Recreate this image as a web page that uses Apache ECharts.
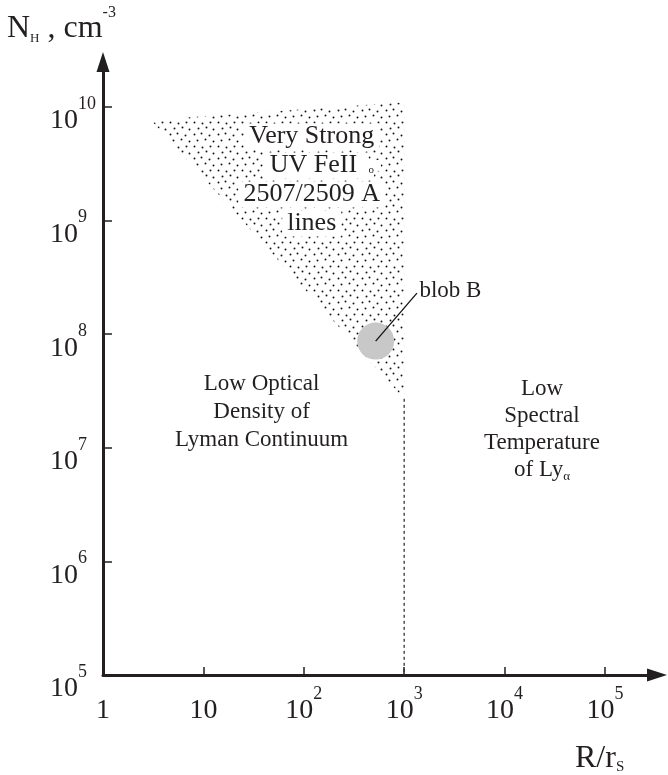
<!DOCTYPE html>
<html>
<head>
<meta charset="utf-8">
<script src="https://cdn.jsdelivr.net/npm/echarts@6/dist/echarts.min.js"></script>
<style>
html,body{margin:0;padding:0;background:#fff;}
#chart{width:668px;height:775px;}
</style>
</head>
<body>
<div id="chart"></div>
<script>
// ---- data (physical units) ----
const xTickValues = [1, 10, 100, 1000, 10000, 100000];        // R / r_s
const yTickValues = [1e5, 1e6, 1e7, 1e8, 1e9, 1e10];          // N_H, cm^-3
const xRange = [1, 3.3e5];
const yRange = [1e5, 2.49e10];
const feRegion = [[3, 7.7e9], [1000, 1.1e10], [1000, 2.7e7]]; // dotted triangle
const boundaryLine = [[1000, 2.7e7], [1000, 1e5]];           // dashed boundary
const blobB = [[520, 8.7e7]];
const blobLeader = [[520, 8.7e7], [1340, 2.3e8]];
const feTextAt = [120, 2.28e9];
const blobTextAt = [1420, 2.4e8];
const lowOpticalAt = [38, 2.07e7];
const lowSpectralAt = [23600, 1.45e7];

const lg = Math.log10;
const toLog = p => [lg(p[0]), lg(p[1])];
const FONT = 'Liberation Serif';
const INK = '#231f20';

// stipple pattern for the dotted region
function makeDots() {
  const c = document.createElement('canvas');
  c.width = 24; c.height = 24;
  const g = c.getContext('2d');
  g.fillStyle = '#111';
  const pts = [[2,2],[10,3],[18,2],[6,8],[14,7],[21,9],[2,14],[9,13],[17,15],[5,20],[13,19],[21,21]];
  pts.forEach(p => { g.beginPath(); g.arc(p[0] + 0.5, p[1] + 0.5, 0.95, 0, Math.PI * 2); g.fill(); });
  return c;
}
const dotPattern = { image: makeDots(), repeat: 'repeat' };

const supRich = {
  b: { fontFamily: FONT, fontSize: 28, color: INK, verticalAlign: 'bottom' },
  s: { fontFamily: FONT, fontSize: 18, color: INK, verticalAlign: 'top' }
};
const whiteTok = { fontFamily: FONT, fontSize: 26, lineHeight: 29, color: INK, backgroundColor: '#fff', padding: [0, 5, 0, 5] };

const chart = echarts.init(document.getElementById('chart'));
chart.setOption({
  backgroundColor: '#fff',
  animation: false,
  title: [
    {
      left: 2, top: 0,
      text: '{n|N}{h|H}{t| , cm}{e|-3}',
      textStyle: {
        fontFamily: FONT, color: INK, fontWeight: 'normal', lineHeight: 40,
        rich: {
          n: { fontFamily: FONT, fontSize: 32, fontWeight: 'normal', color: INK, verticalAlign: 'bottom' },
          h: { fontFamily: FONT, fontSize: 13, fontWeight: 'normal', color: INK, verticalAlign: 'bottom' },
          t: { fontFamily: FONT, fontSize: 32, fontWeight: 'normal', color: INK, verticalAlign: 'bottom' },
          e: { fontFamily: FONT, fontSize: 16, fontWeight: 'normal', color: INK, verticalAlign: 'top' }
        }
      }
    },
    {
      left: 570, top: 730,
      text: '{r|R/r}{s|S}',
      textStyle: {
        fontFamily: FONT, color: INK, fontWeight: 'normal', lineHeight: 40,
        rich: {
          r: { fontFamily: FONT, fontSize: 32, fontWeight: 'normal', color: INK, verticalAlign: 'bottom' },
          s: { fontFamily: FONT, fontSize: 15, fontWeight: 'normal', color: INK, verticalAlign: 'bottom' }
        }
      }
    }
  ],
  grid: { left: 103, right: 11, top: 62, bottom: 100 },
  xAxis: {
    type: 'value', min: lg(xRange[0]), max: lg(xRange[1]), interval: 1,
    splitLine: { show: false },
    axisLine: { lineStyle: { color: INK, width: 3 }, symbol: ['none', 'triangle'], symbolSize: [13, 20] },
    axisTick: { inside: true, length: 8, lineStyle: { color: INK, width: 1.5 }, customValues: xTickValues.map(lg) },
    axisLabel: {
      customValues: xTickValues.map(lg), margin: 10, lineHeight: 40,
      fontFamily: FONT, color: INK, rich: supRich,
      formatter: v => { const e = Math.round(v); return e === 0 ? '{b|1}' : (e === 1 ? '{b|10}' : '{b|10}{s|' + e + '}'); }
    }
  },
  yAxis: {
    type: 'value', min: lg(yRange[0]), max: lg(yRange[1]), interval: 1,
    splitLine: { show: false },
    axisLine: { lineStyle: { color: INK, width: 3 }, symbol: ['none', 'triangle'], symbolSize: [13, 20] },
    axisTick: { inside: true, length: 9, lineStyle: { color: INK, width: 1.5 }, customValues: yTickValues.map(lg) },
    axisLabel: {
      customValues: yTickValues.map(lg), margin: 53, align: 'left', lineHeight: 40, padding: [16, 0, 0, 0],
      fontFamily: FONT, color: INK, rich: supRich,
      formatter: v => '{b|10}{s|' + Math.round(v) + '}'
    }
  },
  series: [
    {
      type: 'custom', z: 1, silent: true,
      data: feRegion.map(toLog),
      renderItem: (params, api) => {
        if (params.dataIndex !== 0) return;
        const pts = feRegion.map(p => api.coord(toLog(p)));
        return { type: 'polygon', shape: { points: pts }, style: { fill: dotPattern } };
      }
    },
    {
      type: 'line', z: 2, silent: true, symbol: 'none',
      data: boundaryLine.map(toLog),
      lineStyle: { color: '#333', width: 1.3, type: [3, 3] }
    },
    {
      type: 'scatter', z: 3, silent: true, symbolSize: 37,
      data: blobB.map(toLog),
      itemStyle: { color: '#c8c8c8', opacity: 1 }
    },
    {
      type: 'line', z: 4, silent: true, symbol: 'none',
      data: blobLeader.map(toLog),
      lineStyle: { color: '#111', width: 1.3 }
    },
    {
      type: 'scatter', z: 5, silent: true, symbolSize: 0,
      itemStyle: { opacity: 1 },
      data: [
        { value: toLog(feTextAt), label: {
            show: true, position: 'inside', align: 'center', verticalAlign: 'middle',
            fontFamily: FONT, fontSize: 26, lineHeight: 29, color: INK, opacity: 1,
            formatter: '{w|Very Strong}\n{q| }{w|UV FeII }{r|o}{p| }\n{w|2507/2509 A}\n{w|lines}',
            rich: {
              w: whiteTok,
              q: { fontFamily: FONT, fontSize: 11, width: 22 },
              r: { fontFamily: FONT, fontSize: 11, height: 20, verticalAlign: 'bottom', color: INK, backgroundColor: '#fff' },
              p: { fontFamily: FONT, fontSize: 11, lineHeight: 29, color: INK, backgroundColor: '#fff', padding: [0, 4, 0, 0] }
            }
        } },
        { value: toLog(blobTextAt), label: {
            show: true, position: 'right', distance: 0, opacity: 1,
            fontFamily: FONT, fontSize: 23, color: INK, formatter: 'blob B'
        } },
        { value: toLog(lowOpticalAt), label: {
            show: true, position: 'inside', align: 'center', verticalAlign: 'middle', opacity: 1,
            fontFamily: FONT, fontSize: 23, lineHeight: 28, color: INK,
            formatter: 'Low Optical\nDensity of\nLyman Continuum'
        } },
        { value: toLog(lowSpectralAt), label: {
            show: true, position: 'inside', align: 'center', verticalAlign: 'middle', opacity: 1,
            fontFamily: FONT, fontSize: 23, lineHeight: 27, color: INK,
            formatter: 'Low\nSpectral\nTemperature\nof Ly{a|α}',
            rich: { a: { fontFamily: FONT, fontSize: 13, color: INK, verticalAlign: 'bottom' } }
        } }
      ]
    }
  ]
});
</script>
</body>
</html>
